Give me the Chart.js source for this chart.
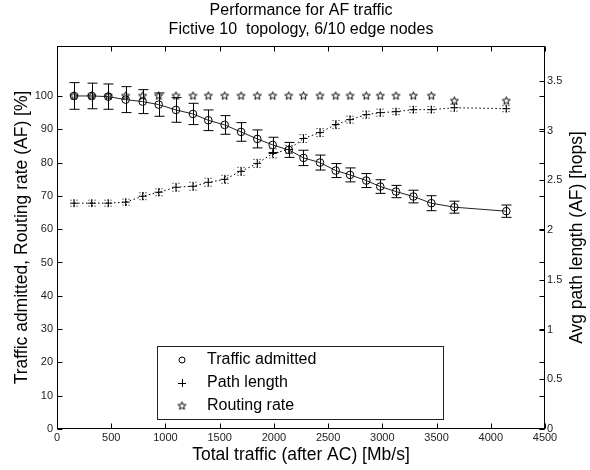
<!DOCTYPE html>
<html>
<head>
<meta charset="utf-8">
<script src="https://cdn.jsdelivr.net/npm/chart.js@4.4.0/dist/chart.umd.min.js"></script>
<style>
  html, body { margin: 0; padding: 0; background: #fff; }
</style>
</head>
<body>
<canvas id="chart" width="590" height="470"></canvas>
<script>
// values
const traffic = [157, 320, 473, 633, 790, 938, 1097, 1254, 1395, 1546, 1697, 1847, 1989,
  2137, 2273, 2425, 2570, 2702, 2852, 2981, 3126, 3286, 3452, 3664, 4143];
const admitted = [100.0, 100.0, 99.8, 98.9, 98.3, 97.4, 95.8, 94.6, 92.7, 91.3, 89.2, 87.1, 85.3,
  83.8, 81.4, 80.0, 77.6, 76.3, 74.6, 72.8, 71.3, 69.8, 67.8, 66.6, 65.4];
const admittedErr = [4.0, 3.85, 3.8, 3.9, 3.6, 3.5, 3.7, 3.2, 3.1, 2.8, 2.8, 2.7, 2.3,
  2.25, 2.3, 2.25, 2.1, 2.1, 2.1, 2.05, 1.85, 1.9, 2.25, 1.8, 1.85];
const pathLen = [2.27, 2.27, 2.27, 2.28, 2.34, 2.38, 2.43, 2.44, 2.48, 2.51, 2.59, 2.67, 2.77,
  2.81, 2.92, 2.98, 3.06, 3.11, 3.16, 3.18, 3.19, 3.21, 3.21, 3.23, 3.22];
const pathErr = [0.03, 0.03, 0.03, 0.03, 0.035, 0.035, 0.04, 0.04, 0.04, 0.04, 0.04, 0.04, 0.045,
  0.04, 0.04, 0.04, 0.04, 0.035, 0.035, 0.035, 0.03, 0.03, 0.03, 0.035, 0.03];
const routing = [100, 100, 100, 100, 100, 100, 100, 100, 100, 100, 100, 100, 100,
  100, 100, 100, 100, 100, 100, 100, 100, 100, 100, 98.5, 98.5];

const titleLines = ['Performance for AF traffic', 'Fictive 10  topology, 6/10 edge nodes'];
const xTitle = 'Total traffic (after AC) [Mb/s]';
const yTitle = 'Traffic admitted, Routing rate (AF) [%]';
const y2Title = 'Avg path length (AF) [hops]';
const legendLabels = ['Traffic admitted', 'Path length', 'Routing rate'];

const FONT = '"Liberation Sans", Arial, Helvetica, sans-serif';

// pentagram marker
const starImg = (() => {
  const c = document.createElement('canvas');
  c.width = 11; c.height = 11;
  const g = c.getContext('2d');
  g.strokeStyle = '#000';
  g.lineWidth = 1;
  g.beginPath();
  for (let i = 0; i < 10; i++) {
    const r = i % 2 ? 1.8 : 4.2;
    const a = -Math.PI / 2 + i * Math.PI / 5;
    const px = 5.5 + r * Math.cos(a), py = 5.5 + r * Math.sin(a);
    if (i) g.lineTo(px, py); else g.moveTo(px, py);
  }
  g.closePath();
  g.stroke();
  return c;
})();

const pts = (ys) => ys.map((v, i) => ({ x: traffic[i], y: v }));

function errBars(ctx, chart, idx, errs, scale, cap, dash) {
  const meta = chart.getDatasetMeta(idx);
  const vals = chart.data.datasets[idx].data;
  ctx.setLineDash(dash);
  meta.data.forEach((pt, i) => {
    const v = vals[i].y, e = errs[i];
    const y0 = scale.getPixelForValue(v - e), y1 = scale.getPixelForValue(v + e);
    const x = Math.round(pt.x) + 0.5;
    ctx.beginPath();
    ctx.moveTo(x, y0); ctx.lineTo(x, y1);
    ctx.moveTo(x - cap, y0); ctx.lineTo(x + cap, y0);
    ctx.moveTo(x - cap, y1); ctx.lineTo(x + cap, y1);
    ctx.stroke();
  });
  ctx.setLineDash([]);
}

const matlabFrame = {
  id: 'matlabFrame',
  beforeDatasetsDraw(chart) {
    const ctx = chart.ctx;
    ctx.save();
    ctx.strokeStyle = '#000';
    ctx.lineWidth = 1;
    errBars(ctx, chart, 0, admittedErr, chart.scales.y, 5, []);
    errBars(ctx, chart, 1, pathErr, chart.scales.y2, 4, [1, 2]);
    ctx.restore();
  },
  afterDatasetsDraw(chart) {
    const ctx = chart.ctx, a = chart.chartArea;
    const { x, y, y2 } = chart.scales;
    const L = Math.round(a.left) + 0.5, R = Math.round(a.right) - 0.5;
    const T = Math.round(a.top) + 0.5, B = Math.round(a.bottom) - 0.5;
    ctx.save();

    // legend
    const lx = 157.5, ly = 346.5, lw = 286, lh = 73;
    ctx.fillStyle = '#fff';
    ctx.fillRect(lx, ly, lw, lh);
    ctx.strokeStyle = '#222';
    ctx.lineWidth = 1;
    ctx.strokeRect(lx, ly, lw, lh);
    const rows = [360, 383, 406];
    ctx.strokeStyle = '#000';
    ctx.beginPath();
    ctx.arc(182, rows[0], 3, 0, Math.PI * 2);
    ctx.stroke();
    ctx.beginPath();
    ctx.moveTo(178, rows[1] + 0.5); ctx.lineTo(186, rows[1] + 0.5);
    ctx.moveTo(182.5, rows[1] - 4); ctx.lineTo(182.5, rows[1] + 4);
    ctx.stroke();
    ctx.drawImage(starImg, 182 - 5.5, rows[2] - 5.5);
    ctx.fillStyle = '#000';
    ctx.font = '16px ' + FONT;
    ctx.textAlign = 'left';
    ctx.textBaseline = 'middle';
    legendLabels.forEach((t, i) => ctx.fillText(t, 207, rows[i]));

    // box and inward ticks
    ctx.strokeStyle = '#000';
    ctx.strokeRect(L, T, R - L, B - T);
    ctx.beginPath();
    x.ticks.forEach(t => {
      const px = Math.round(x.getPixelForValue(t.value)) + 0.5;
      ctx.moveTo(px, B); ctx.lineTo(px, B - 5);
      ctx.moveTo(px, T); ctx.lineTo(px, T + 5);
    });
    y.ticks.forEach(t => {
      const py = Math.round(y.getPixelForValue(t.value)) + 0.5;
      ctx.moveTo(L, py); ctx.lineTo(L + 5, py);
      ctx.moveTo(R, py); ctx.lineTo(R - 5, py);
    });
    y2.ticks.forEach(t => {
      const py = Math.round(y2.getPixelForValue(t.value)) + 0.5;
      ctx.moveTo(R, py); ctx.lineTo(R - 5, py);
    });
    ctx.stroke();

    // titles
    const cx = (a.left + a.right) / 2;
    ctx.fillStyle = '#000';
    ctx.textAlign = 'center';
    ctx.textBaseline = 'middle';
    ctx.font = '16px ' + FONT;
    ctx.fillText(titleLines[0], cx, 11);
    ctx.fillText(titleLines[1], cx, 30);
    ctx.font = '17.5px ' + FONT;
    ctx.fillText(xTitle, cx, 455);
    const cy = (a.top + a.bottom) / 2;
    ctx.translate(22, cy);
    ctx.rotate(-Math.PI / 2);
    ctx.fillText(yTitle, 0, 0);
    ctx.setTransform(1, 0, 0, 1, 0, 0);
    ctx.translate(577, cy);
    ctx.rotate(-Math.PI / 2);
    ctx.fillText(y2Title, 0, 0);
    ctx.restore();
  }
};

const tickFont = { family: FONT, size: 11 };
const plain = v => String(v);

new Chart(document.getElementById('chart'), {
  type: 'line',
  data: {
    datasets: [
      {
        label: legendLabels[0],
        data: pts(admitted),
        yAxisID: 'y',
        borderColor: '#222',
        borderWidth: 1,
        pointStyle: 'circle',
        pointRadius: 3.8,
        pointBorderColor: '#000',
        pointBackgroundColor: 'rgba(0,0,0,0)',
        pointBorderWidth: 1,
        tension: 0
      },
      {
        label: legendLabels[1],
        data: pts(pathLen),
        yAxisID: 'y2',
        borderColor: '#000',
        borderWidth: 1,
        borderDash: [1.5, 2.5],
        pointStyle: 'cross',
        pointRadius: 4,
        pointBorderColor: '#000',
        pointBorderWidth: 1,
        tension: 0
      },
      {
        label: legendLabels[2],
        data: pts(routing),
        yAxisID: 'y',
        showLine: false,
        pointStyle: starImg,
        pointRadius: 4
      }
    ]
  },
  options: {
    responsive: false,
    animation: false,
    layout: { padding: { top: 46, left: 0, right: 0, bottom: 0 } },
    plugins: {
      legend: { display: false },
      title: { display: false },
      tooltip: { enabled: false }
    },
    scales: {
      x: {
        type: 'linear',
        min: 0, max: 4500,
        grid: { display: false, drawTicks: false },
        border: { display: false },
        ticks: { stepSize: 500, autoSkip: false, maxRotation: 0, padding: 2, color: '#222', font: tickFont, callback: plain },
        afterFit: s => { s.height = 41; }
      },
      y: {
        type: 'linear',
        position: 'left',
        min: 0, max: 115,
        grid: { display: false, drawTicks: false },
        border: { display: false },
        ticks: { stepSize: 10, autoSkip: false, padding: 4, color: '#222', font: tickFont, callback: plain },
        afterBuildTicks: s => { s.ticks = s.ticks.filter(t => t.value <= 100); },
        afterFit: s => { s.width = 57; }
      },
      y2: {
        type: 'linear',
        position: 'right',
        min: 0, max: 3.85,
        grid: { display: false, drawTicks: false },
        border: { display: false },
        ticks: { stepSize: 0.5, autoSkip: false, padding: 2, color: '#222', font: tickFont, callback: plain },
        afterBuildTicks: s => { s.ticks = s.ticks.filter(t => t.value <= 3.5 + 1e-9); },
        afterFit: s => { s.width = 45; }
      }
    }
  },
  plugins: [matlabFrame]
});
</script>
</body>
</html>
